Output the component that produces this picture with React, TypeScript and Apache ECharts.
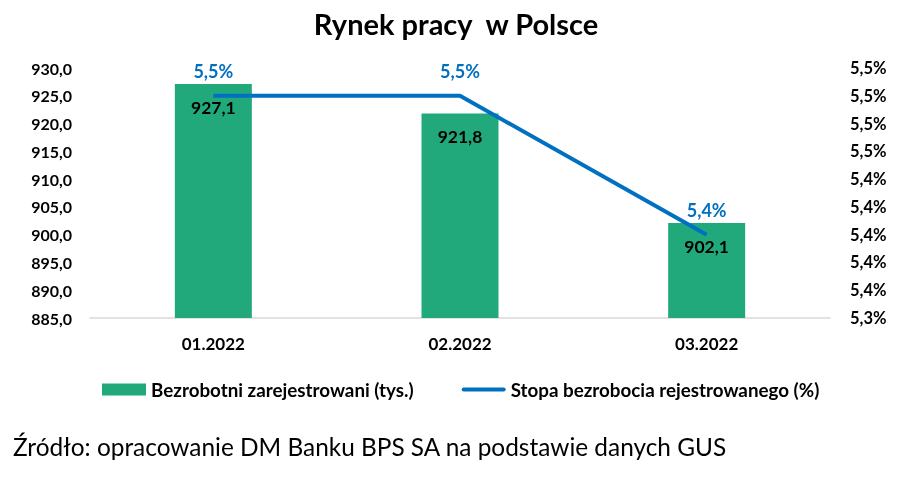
import React, { useEffect, useRef } from "react";
import * as echarts from "echarts";

const categories = ["01.2022", "02.2022", "03.2022"];
const unemployed = [927.1, 921.8, 902.1];
const rate = [5.5, 5.5, 5.4];
const leftMin = 885;
const leftMax = 930;
const leftStep = 5;
const rightMin = 5.34;
const rightMax = 5.52;
const rightStep = 0.02;

const FONT = "Lato, 'Open Sans', sans-serif";
const fmt1 = (v: number) => (Math.round(v * 10) / 10).toFixed(1).replace(".", ",");

export default function App() {
  const ref = useRef<HTMLDivElement>(null);
  useEffect(() => {
    if (!ref.current) return;
    const chart = echarts.init(ref.current, undefined, { renderer: "svg" });
    chart.setOption({
      animation: false,
      textStyle: { fontFamily: FONT },
      title: {
        text: "Rynek pracy  w Polsce",
        left: "center",
        top: 4,
        textStyle: { fontFamily: FONT, fontSize: 29, fontWeight: "bold", color: "#000" },
      },
      grid: { left: 90, right: 82, top: 68, bottom: 166 },
      legend: {
        top: 375,
        left: 97,
        itemWidth: 44,
        itemHeight: 12,
        itemGap: 48,
        textStyle: { fontFamily: FONT, fontSize: 18.8, fontWeight: "bold", color: "#000" },
        data: [
          { name: "Bezrobotni zarejestrowani (tys.)", icon: "rect" },
          {
            name: "Stopa bezrobocia rejestrowanego (%)",
            icon: "path://M2,0L42,0A2,2 0 0 1 42,4L2,4A2,2 0 0 1 2,0Z",
          },
        ],
      },
      xAxis: {
        type: "category",
        data: categories,
        axisTick: { show: false },
        axisLine: { lineStyle: { color: "#D9D9D9", width: 1.5 } },
        axisLabel: { fontFamily: FONT, fontSize: 17, fontWeight: "bold", color: "#000", margin: 17 },
      },
      yAxis: [
        {
          type: "value",
          min: leftMin,
          max: leftMax,
          interval: leftStep,
          splitLine: { show: false },
          axisLine: { show: false },
          axisTick: { show: false },
          axisLabel: {
            fontFamily: FONT,
            fontSize: 16,
            fontWeight: "bold",
            color: "#000",
            margin: 18,
            formatter: (v: number) => fmt1(v),
          },
        },
        {
          type: "value",
          min: rightMin,
          max: rightMax,
          interval: rightStep,
          splitLine: { show: false },
          axisLine: { show: false },
          axisTick: { show: false },
          axisLabel: {
            fontFamily: FONT,
            fontSize: 16.5,
            fontWeight: "bold",
            color: "#000",
            margin: 20,
            formatter: (v: number) => fmt1(v) + "%",
          },
        },
      ],
      series: [
        {
          name: "Bezrobotni zarejestrowani (tys.)",
          type: "bar",
          data: unemployed,
          barWidth: 77,
          itemStyle: { color: "#21A97C" },
          label: {
            show: true,
            position: "insideTop",
            distance: 14,
            fontFamily: FONT,
            fontSize: 17.5,
            fontWeight: "bold",
            color: "#000",
            formatter: (p: any) => fmt1(p.value),
          },
        },
        {
          name: "Stopa bezrobocia rejestrowanego (%)",
          type: "line",
          yAxisIndex: 1,
          data: rate,
          symbol: "circle",
          symbolSize: 0.1,
          showSymbol: true,
          lineStyle: { color: "#0070C0", width: 4 },
          itemStyle: { color: "#0070C0" },
          label: {
            show: true,
            position: "top",
            distance: 16,
            fontFamily: FONT,
            fontSize: 18,
            fontWeight: "bold",
            color: "#0070C0",
            formatter: (p: any) => fmt1(p.value) + "%",
          },
        },
      ],
      graphic: [
        {
          type: "text",
          left: 13,
          top: 434,
          style: {
            text: "Źródło: opracowanie DM Banku BPS SA na podstawie danych GUS",
            fontFamily: FONT,
            fontSize: 24.4,
            fill: "#000",
          },
        },
      ],
    });
    return () => chart.dispose();
  }, []);
  return (
    <div
      ref={ref}
      style={{ position: "fixed", left: 0, top: 0, width: 912, height: 484 }}
    />
  );
}
